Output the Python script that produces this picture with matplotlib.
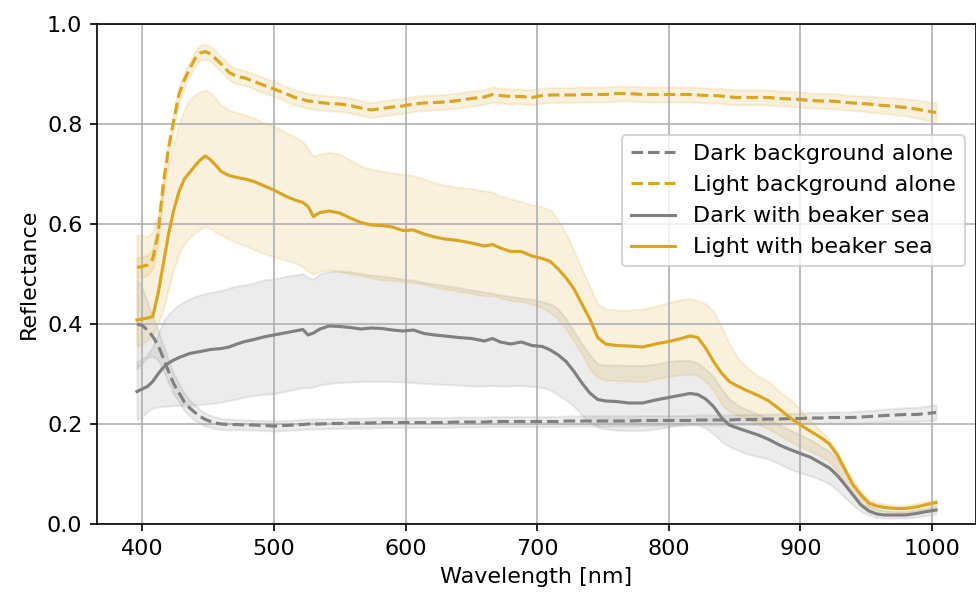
import numpy as np
import matplotlib
matplotlib.use("Agg")
import matplotlib.pyplot as plt

plt.rcParams["font.size"] = 10.7

# wavelength grid [nm]
wl = [396, 400, 404, 408, 412, 416, 420, 424, 428, 432,
      436, 440, 444, 448, 452, 456, 460, 466, 472, 478,
      485, 492, 500, 508, 516, 522, 526, 530, 535, 542,
      550, 558, 566, 574, 582, 590, 598, 606, 614, 622,
      630, 640, 650, 660, 666, 672, 680, 688, 696, 704,
      710, 716, 722, 728, 734, 740, 746, 752, 760, 770,
      780, 790, 800, 808, 816, 822, 828, 834, 840, 846,
      852, 860, 868, 876, 884, 892, 900, 908, 916, 922,
      928, 934, 940, 946, 952, 958, 964, 972, 980, 988,
      996, 1003]

# dark background alone: mean and spread
da_mean = [0.4, 0.397, 0.388, 0.375, 0.358, 0.332, 0.305, 0.28, 0.262, 0.244,
           0.232, 0.223, 0.215, 0.209, 0.205, 0.202, 0.2, 0.199, 0.199, 0.198,
           0.198, 0.197, 0.196, 0.197, 0.198, 0.199, 0.2, 0.2, 0.2, 0.201,
           0.201, 0.202, 0.202, 0.202, 0.203, 0.203, 0.203, 0.203, 0.203, 0.203,
           0.203, 0.204, 0.204, 0.204, 0.205, 0.205, 0.205, 0.205, 0.205, 0.205,
           0.205, 0.205, 0.206, 0.206, 0.206, 0.206, 0.206, 0.206, 0.206, 0.206,
           0.207, 0.207, 0.207, 0.207, 0.207, 0.208, 0.208, 0.208, 0.208, 0.208,
           0.209, 0.209, 0.209, 0.21, 0.21, 0.211, 0.211, 0.212, 0.212, 0.213,
           0.213, 0.213, 0.213, 0.214, 0.215, 0.216, 0.217, 0.218, 0.219, 0.219,
           0.221, 0.223]
da_err = [0.09, 0.075, 0.055, 0.04, 0.03, 0.025, 0.022, 0.02, 0.018, 0.017,
          0.016, 0.015, 0.014, 0.013, 0.012, 0.012, 0.011, 0.011, 0.01, 0.01,
          0.01, 0.01, 0.01, 0.01, 0.01, 0.01, 0.01, 0.01, 0.01, 0.01,
          0.01, 0.01, 0.01, 0.01, 0.01, 0.01, 0.01, 0.01, 0.01, 0.01,
          0.01, 0.01, 0.01, 0.01, 0.01, 0.01, 0.01, 0.01, 0.01, 0.01,
          0.01, 0.01, 0.01, 0.01, 0.01, 0.01, 0.01, 0.01, 0.01, 0.01,
          0.01, 0.01, 0.01, 0.01, 0.01, 0.01, 0.01, 0.01, 0.01, 0.01,
          0.01, 0.01, 0.01, 0.01, 0.01, 0.01, 0.01, 0.011, 0.011, 0.011,
          0.011, 0.011, 0.012, 0.012, 0.012, 0.012, 0.013, 0.013, 0.014, 0.014,
          0.015, 0.015]

# light background alone
la_mean = [0.513, 0.515, 0.518, 0.53, 0.58, 0.68, 0.752, 0.808, 0.86, 0.888,
           0.91, 0.93, 0.942, 0.945, 0.94, 0.93, 0.92, 0.903, 0.895, 0.892,
           0.885, 0.878, 0.87, 0.862, 0.853, 0.849, 0.846, 0.845, 0.843, 0.841,
           0.84, 0.837, 0.832, 0.828, 0.831, 0.834, 0.836, 0.84, 0.842, 0.843,
           0.844, 0.847, 0.851, 0.854, 0.859, 0.857, 0.855, 0.855, 0.853, 0.857,
           0.858, 0.858, 0.858, 0.858, 0.859, 0.859, 0.859, 0.859, 0.861, 0.861,
           0.859, 0.859, 0.859, 0.859, 0.859, 0.858, 0.857, 0.857, 0.856, 0.854,
           0.853, 0.853, 0.853, 0.853, 0.851, 0.85, 0.849, 0.847, 0.846, 0.846,
           0.845, 0.843, 0.842, 0.841, 0.84, 0.838, 0.837, 0.835, 0.833, 0.83,
           0.826, 0.823]
la_err = [0.02, 0.02, 0.02, 0.02, 0.02, 0.02, 0.018, 0.017, 0.016, 0.016,
          0.015, 0.015, 0.015, 0.015, 0.015, 0.015, 0.015, 0.015, 0.015, 0.015,
          0.015, 0.015, 0.015, 0.015, 0.015, 0.015, 0.015, 0.015, 0.015, 0.015,
          0.015, 0.015, 0.015, 0.015, 0.015, 0.015, 0.015, 0.015, 0.015, 0.015,
          0.015, 0.015, 0.015, 0.015, 0.015, 0.015, 0.015, 0.015, 0.015, 0.015,
          0.015, 0.015, 0.015, 0.015, 0.015, 0.015, 0.015, 0.015, 0.015, 0.015,
          0.015, 0.015, 0.015, 0.015, 0.015, 0.015, 0.015, 0.015, 0.015, 0.015,
          0.015, 0.015, 0.015, 0.015, 0.015, 0.015, 0.015, 0.015, 0.015, 0.015,
          0.015, 0.015, 0.015, 0.015, 0.016, 0.016, 0.016, 0.017, 0.017, 0.018,
          0.019, 0.02]

# dark with beaker sea: mean, lower and upper band
db_mean = [0.265, 0.27, 0.275, 0.285, 0.3, 0.313, 0.322, 0.328, 0.333, 0.337,
           0.341, 0.343, 0.345, 0.347, 0.349, 0.35, 0.351, 0.354, 0.36, 0.365,
           0.369, 0.374, 0.378, 0.382, 0.386, 0.389, 0.378, 0.382, 0.39, 0.396,
           0.395, 0.393, 0.39, 0.392, 0.391, 0.388, 0.386, 0.388, 0.381, 0.378,
           0.376, 0.373, 0.371, 0.366, 0.371, 0.364, 0.36, 0.364, 0.357, 0.355,
           0.348, 0.338, 0.325, 0.305, 0.282, 0.262, 0.249, 0.246, 0.245, 0.242,
           0.242, 0.248, 0.253, 0.257, 0.261, 0.259, 0.25, 0.235, 0.213, 0.198,
           0.192, 0.185, 0.178, 0.169, 0.158, 0.149, 0.141, 0.133, 0.121, 0.112,
           0.097, 0.078, 0.058, 0.038, 0.026, 0.02, 0.018, 0.018, 0.018, 0.021,
           0.025, 0.028]
db_hi = [0.325, 0.33, 0.338, 0.355, 0.38, 0.405, 0.42, 0.43, 0.438, 0.445,
         0.45, 0.455, 0.458, 0.461, 0.463, 0.465, 0.467, 0.472, 0.476, 0.478,
         0.482, 0.488, 0.49, 0.495, 0.498, 0.501, 0.493, 0.49, 0.5, 0.505,
         0.506, 0.505, 0.501, 0.498, 0.496, 0.493, 0.49, 0.488, 0.483, 0.48,
         0.477, 0.473, 0.468, 0.464, 0.462, 0.458, 0.455, 0.452, 0.45, 0.445,
         0.44, 0.43, 0.41, 0.385, 0.36, 0.338, 0.32, 0.318, 0.318, 0.317,
         0.317, 0.32, 0.325, 0.327, 0.327, 0.322, 0.31, 0.295, 0.27, 0.25,
         0.238, 0.228, 0.22, 0.21, 0.198, 0.188, 0.178, 0.168, 0.155, 0.145,
         0.128, 0.106, 0.08, 0.055, 0.038, 0.029, 0.026, 0.025, 0.025, 0.028,
         0.032, 0.035]
db_lo = [0.208, 0.215, 0.225, 0.232, 0.234, 0.235, 0.236, 0.237, 0.237, 0.238,
         0.238, 0.238, 0.239, 0.24, 0.241, 0.242, 0.244, 0.247, 0.25, 0.254,
         0.257, 0.259, 0.261, 0.265, 0.269, 0.273, 0.272, 0.274, 0.278, 0.281,
         0.283, 0.284, 0.285, 0.285, 0.285, 0.285, 0.284, 0.283, 0.281, 0.28,
         0.279, 0.278, 0.276, 0.276, 0.277, 0.276, 0.276, 0.277, 0.275, 0.273,
         0.268, 0.258, 0.248, 0.235, 0.218, 0.203, 0.194, 0.19, 0.188, 0.187,
         0.187, 0.19, 0.194, 0.198, 0.201, 0.199, 0.192, 0.18, 0.165, 0.155,
         0.148, 0.14, 0.135, 0.13, 0.12, 0.11, 0.102, 0.096, 0.088, 0.08,
         0.068, 0.052, 0.038, 0.025, 0.018, 0.013, 0.012, 0.012, 0.012, 0.014,
         0.017, 0.02]

# light with beaker sea
lb_mean = [0.408, 0.41, 0.412, 0.415, 0.46, 0.52, 0.58, 0.628, 0.665, 0.69,
           0.703, 0.716, 0.728, 0.736, 0.728, 0.717, 0.705, 0.697, 0.693, 0.69,
           0.685, 0.677, 0.668, 0.657, 0.648, 0.643, 0.635, 0.615, 0.623, 0.626,
           0.622, 0.612, 0.603, 0.598, 0.597, 0.594, 0.587, 0.588, 0.58, 0.574,
           0.57, 0.567, 0.562, 0.556, 0.559, 0.552, 0.545, 0.545, 0.536, 0.531,
           0.525, 0.51, 0.492, 0.47, 0.44, 0.41, 0.373, 0.36, 0.357, 0.356,
           0.354, 0.36, 0.365, 0.37, 0.376, 0.373, 0.352, 0.325, 0.302, 0.285,
           0.276, 0.266, 0.257, 0.246, 0.23, 0.213, 0.198, 0.185, 0.172, 0.16,
           0.138, 0.108, 0.078, 0.058, 0.042, 0.036, 0.033, 0.031, 0.031, 0.034,
           0.039, 0.043]
lb_hi = [0.578, 0.577, 0.575, 0.585, 0.62, 0.67, 0.72, 0.76, 0.8, 0.83,
         0.848, 0.858, 0.865, 0.868, 0.862, 0.85, 0.838, 0.828, 0.823, 0.818,
         0.812, 0.803, 0.795, 0.785, 0.774, 0.765, 0.75, 0.735, 0.74, 0.743,
         0.74, 0.728, 0.716, 0.71, 0.706, 0.702, 0.699, 0.697, 0.69, 0.683,
         0.678, 0.673, 0.671, 0.666, 0.664, 0.656, 0.65, 0.645, 0.638, 0.634,
         0.628, 0.608, 0.58, 0.546, 0.51, 0.475, 0.44, 0.43, 0.428, 0.428,
         0.43, 0.436, 0.443, 0.448, 0.451, 0.447, 0.44, 0.425, 0.395, 0.36,
         0.333, 0.312, 0.295, 0.285, 0.265, 0.25, 0.228, 0.206, 0.185, 0.168,
         0.145, 0.112, 0.088, 0.065, 0.05, 0.043, 0.04, 0.038, 0.038, 0.041,
         0.046, 0.05]
lb_lo = [0.355, 0.36, 0.368, 0.38, 0.4, 0.43, 0.47, 0.51, 0.54, 0.56,
         0.572, 0.583, 0.59, 0.595, 0.59, 0.583, 0.578, 0.57, 0.562, 0.557,
         0.549, 0.541, 0.535, 0.528, 0.522, 0.515, 0.505, 0.5, 0.505, 0.508,
         0.505, 0.5, 0.497, 0.492, 0.488, 0.487, 0.485, 0.483, 0.479, 0.474,
         0.47, 0.466, 0.461, 0.456, 0.457, 0.452, 0.447, 0.445, 0.44, 0.432,
         0.423, 0.41, 0.39, 0.365, 0.34, 0.31, 0.293, 0.288, 0.287, 0.286,
         0.285, 0.29, 0.295, 0.298, 0.3, 0.297, 0.285, 0.268, 0.24, 0.225,
         0.218, 0.21, 0.2, 0.19, 0.178, 0.165, 0.155, 0.145, 0.135, 0.125,
         0.105, 0.078, 0.055, 0.04, 0.033, 0.028, 0.025, 0.024, 0.024, 0.027,
         0.032, 0.036]

labels = ["Dark background alone", "Light background alone",
          "Dark with beaker sea", "Light with beaker sea"]

wl = np.array(wl)
fig = plt.figure(figsize=(976 / 150, 592 / 150), dpi=150)
ax = fig.add_axes([97 / 976, 68 / 592, 879 / 976, 500 / 592])

dark, light = "gray", "goldenrod"

m, e = np.array(da_mean), np.array(da_err)
ax.plot(wl, m, "--", color=dark, label=labels[0])
ax.fill_between(wl, m - e, m + e, color=dark, alpha=0.15)

m, e = np.array(la_mean), np.array(la_err)
ax.plot(wl, m, "--", color=light, label=labels[1])
ax.fill_between(wl, m - e, m + e, color=light, alpha=0.15)

ax.plot(wl, db_mean, "-", color=dark, label=labels[2])
ax.fill_between(wl, db_lo, db_hi, color=dark, alpha=0.15)

ax.plot(wl, lb_mean, "-", color=light, label=labels[3])
ax.fill_between(wl, lb_lo, lb_hi, color=light, alpha=0.15)

ax.set_ylim(0, 1)
ax.set_xlabel("Wavelength [nm]")
ax.set_ylabel("Reflectance")
ax.grid(True)
ax.legend(loc="upper right", bbox_to_anchor=(1, 0.8))

fig.savefig("out.png", dpi=150)
